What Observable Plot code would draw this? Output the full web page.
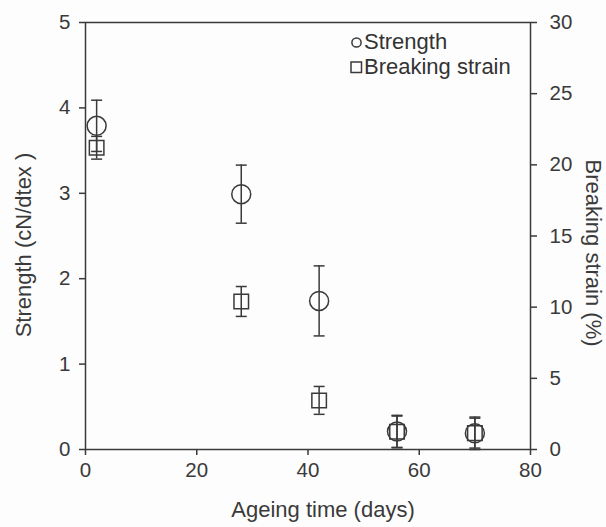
<!DOCTYPE html>
<html>
<head>
<meta charset="utf-8">
<script src="https://cdn.jsdelivr.net/npm/d3@7"></script>
<script src="https://cdn.jsdelivr.net/npm/@observablehq/plot@0.6"></script>
<style>
  body { margin: 0; background: #fff; }
  #wrap { position: relative; width: 606px; height: 527px; overflow: hidden; background: #fdfdfd;
          font-family: "Liberation Sans", Arial, sans-serif; color: #333; }
  #title { position: absolute; top: -23px; left: 0; width: 606px; text-align: left; padding-left: 122px;
           box-sizing: border-box; font-size: 20px; font-weight: bold; color: #2a2a2a; white-space: nowrap;
           -webkit-font-smoothing: antialiased; }
  #legend { position: absolute; left: 350px; top: 29px; font-size: 22px; line-height: 25px; color: #333; }
  #legend .row { display: flex; align-items: center; }
  #legend svg { margin-right: 1px; }
</style>
</head>
<body>
<div id="wrap">
  <div id="title">Tensile properties by ageing time (in seawater)</div>
  <div id="chart"></div>
  <div id="legend"></div>
</div>
<script>
// ---- data ----
const days          = [2, 28, 42, 56, 70];
const strength      = [3.79, 2.99, 1.74, 0.21, 0.19];   // cN/dtex
const strengthErr   = [0.30, 0.34, 0.41, 0.19, 0.19];
const strain        = [21.2, 10.4, 3.45, 1.25, 1.15];  // %
const strainErr     = [0.80, 1.05, 0.98, 1.10, 1.05];
const xTicks        = [0, 20, 40, 60, 80];
const strengthTicks = [0, 1, 2, 3, 4, 5];
const strainTicks   = [0, 5, 10, 15, 20, 25, 30];
const strengthMax   = 5;
const strainMax     = 30;
const seriesNames   = ["Strength", "Breaking strain"];
const labels = { x: "Ageing time (days)", yLeft: "Strength (cN/dtex )", yRight: "Breaking strain (%)" };

// ---- derived table ----
const k = strengthMax / strainMax; // strain -> left-axis units
const rows = days.map((d, i) => ({
  day: d,
  s: strength[i], sLo: strength[i] - strengthErr[i], sHi: strength[i] + strengthErr[i],
  b: strain[i] * k, bLo: (strain[i] - strainErr[i]) * k, bHi: (strain[i] + strainErr[i]) * k
}));

const cap = { draw(ctx, size) { const r = Math.sqrt(size / Math.PI); ctx.moveTo(-r, 0); ctx.lineTo(r, 0); } };
const ink = "#3a3a3a";
const sw = 1.5;
const capR = 5.5;

const chart = Plot.plot({
  width: 606, height: 527,
  marginTop: 22, marginRight: 76, marginBottom: 78, marginLeft: 85,
  style: { background: "transparent", color: ink, fontFamily: "'Liberation Sans', Arial, sans-serif" },
  x: { domain: [0, 80] },
  y: { domain: [0, strengthMax] },
  marks: [
    Plot.axisX(xTicks, { tickSize: 6, tickPadding: 7, fontSize: 20.5, stroke: ink, strokeWidth: sw, label: null }),
    Plot.axisY(strengthTicks, { anchor: "left", tickSize: 6, tickPadding: 9, fontSize: 20.5, stroke: ink, strokeWidth: sw,
      tickFormat: d => String(d), label: null }),
    Plot.axisY(strainTicks.map(v => v * k), { anchor: "right", tickSize: 6, tickPadding: 13, fontSize: 20.5, stroke: ink, strokeWidth: sw,
      tickFormat: d => String(Math.round(d / k)), label: null }),
    Plot.frame({ stroke: ink, strokeWidth: sw }),
    // strength
    Plot.ruleX(rows, { x: "day", y1: "sLo", y2: "sHi", stroke: ink, strokeWidth: sw }),
    Plot.dot(rows, { x: "day", y: "sLo", symbol: cap, r: capR, stroke: ink, fill: "none", strokeWidth: sw }),
    Plot.dot(rows, { x: "day", y: "sHi", symbol: cap, r: capR, stroke: ink, fill: "none", strokeWidth: sw }),
    Plot.dot(rows, { x: "day", y: "s", symbol: "circle", r: 9.5, stroke: ink, fill: "none", strokeWidth: sw }),
    // breaking strain
    Plot.ruleX(rows, { x: "day", y1: "bLo", y2: "bHi", stroke: ink, strokeWidth: sw }),
    Plot.dot(rows, { x: "day", y: "bLo", symbol: cap, r: capR, stroke: ink, fill: "none", strokeWidth: sw }),
    Plot.dot(rows, { x: "day", y: "bHi", symbol: cap, r: capR, stroke: ink, fill: "none", strokeWidth: sw }),
    Plot.dot(rows, { x: "day", y: "b", symbol: "square", r: 8.2, stroke: ink, fill: "none", strokeWidth: sw }),
    // axis titles
    Plot.text([labels.yLeft], { frameAnchor: "left", rotate: -90, dx: -62, dy: 9, textAnchor: "middle", fontSize: 22, fill: ink }),
    Plot.text([labels.yRight], { frameAnchor: "right", rotate: 90, dx: 63, dy: 17, textAnchor: "middle", fontSize: 22, fill: ink }),
    Plot.text([labels.x], { frameAnchor: "bottom", dx: 15, dy: 67, fontSize: 22, fill: ink })
  ]
});
document.getElementById("chart").appendChild(chart);

// legend
const legend = document.getElementById("legend");
const shapes = [
  `<svg width="13" height="14"><circle cx="6.5" cy="7.5" r="4.6" fill="none" stroke="${ink}" stroke-width="1.5"/></svg>`,
  `<svg width="13" height="14"><rect x="1" y="2" width="10.5" height="10.5" fill="none" stroke="${ink}" stroke-width="1.5"/></svg>`
];
seriesNames.forEach((n, i) => {
  const row = document.createElement("div");
  row.className = "row";
  row.innerHTML = shapes[i] + `<span>${n}</span>`;
  legend.appendChild(row);
});
</script>
</body>
</html>
